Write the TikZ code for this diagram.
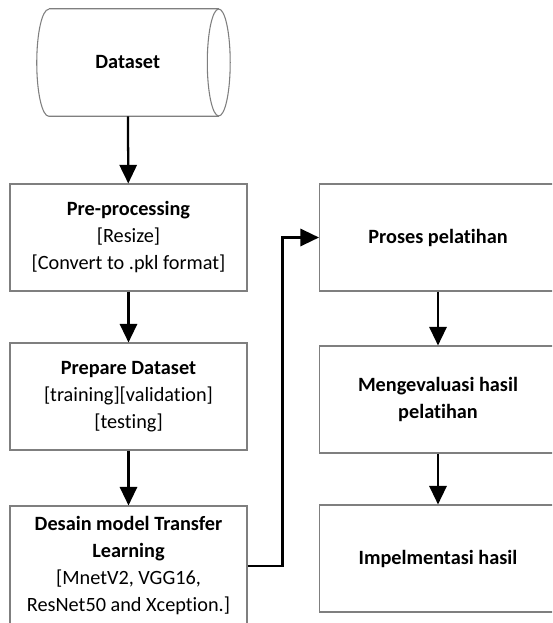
\documentclass[tikz,border=0pt]{standalone}
\usepackage{fontspec}
\setmainfont{Carlito}[Ligatures=NoCommon]
\usepackage{tikz}
\usetikzlibrary{arrows.meta, positioning, calc}
\definecolor{Ink}{HTML}{000000}
\definecolor{Line}{HTML}{7F7F7F}

\begin{document}
\begin{tikzpicture}[
  x=0.75pt, y=-0.75pt,
  font=\fontsize{15.2pt}{20.25pt}\selectfont,
  box/.style={draw=Line, line width=0.8pt, align=center, minimum width=177.75pt, minimum height=80.25pt, inner sep=4pt, fill=white},
  store/.style={minimum width=136.1pt, minimum height=80.25pt, inner sep=0pt},
  arrow/.style={-{Triangle[length=14pt, width=13pt]}, line width=1.7pt, draw=Ink}
]
\clip (0,0) rectangle (552,623);
\fill[white] (0,0) rectangle (552,623);

\node[store] (dataset) at (127.75,62.5) {\textbf{Dataset}};
% cylinder outline round the dataset node
\draw[draw=Line, line width=0.8pt] ([xshift=9pt]dataset.north west) -- (dataset.north east)
  (dataset.south east) -- ([xshift=9pt]dataset.south west)
  arc[start angle=270, end angle=90, x radius=9pt, y radius=40.125pt];
\draw[draw=Line, line width=0.8pt] (dataset.east) ellipse[x radius=8.6pt, y radius=40.125pt];

\node[box] (prepro) at (128.5,237.5) {\textbf{Pre-processing}\\{}[Resize]\\{}[Convert to .pkl format]};
\node[box] (prepare) at (128.5,396.5) {\textbf{Prepare Dataset}\\{}[training][validation]\\{}[testing]};
\node[box, minimum height=90pt] (desain) at (128.5,566) {\textbf{Desain model Transfer}\\\textbf{Learning}\\{}[MnetV2, VGG16,\\ResNet50 and Xception.]};

\node[box] (proses) at (438,237.5) {\textbf{Proses pelatihan}};
\node[box] (evaluasi) at (438,399.5) {\textbf{Mengevaluasi hasil}\\\textbf{pelatihan}};
\node[box] (impl) at (438,558.5) {\textbf{Impelmentasi hasil}};

\draw[arrow] (dataset) -- (prepro);
\draw[arrow] (prepro) -- (prepare);
\draw[arrow] (prepare) -- (desain);
\draw[arrow] (desain.east) -- ++(35,0) |- (proses.west);
\draw[arrow] (proses) -- (evaluasi);
\draw[arrow] (evaluasi) -- (impl);
\end{tikzpicture}
\end{document}
